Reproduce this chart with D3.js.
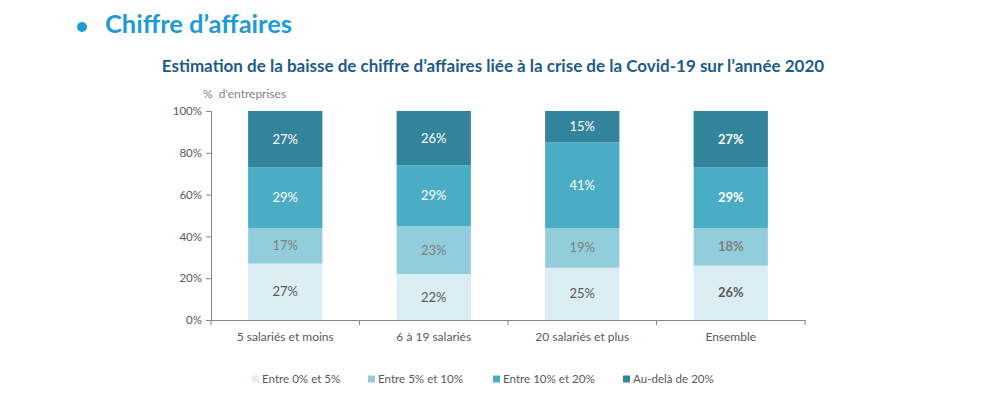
<!DOCTYPE html>
<html>
<head>
<meta charset="utf-8">
<script src="https://cdn.jsdelivr.net/npm/d3@7"></script>
<style>
  body { margin: 0; background: #fff; }
  svg text { font-family: Lato, "Open Sans", sans-serif; }
</style>
</head>
<body>
<div id="chart"></div>
<script>
// Categories (company size)
const categories = ["5 salariés et moins", "6 à 19 salariés", "20 salariés et plus", "Ensemble"];

// Series: share of companies per drop range (%)
const seriesNames = ["Entre 0% et 5%", "Entre 5% et 10%", "Entre 10% et 20%", "Au-delà de 20%"];
const entre0et5   = [27, 22, 25, 26];
const entre5et10  = [17, 23, 19, 18];
const entre10et20 = [29, 29, 41, 29];
const audela20    = [27, 26, 15, 27];

// Y axis ticks
const yTicks = [0, 20, 40, 60, 80, 100];

// Colours for the four ranges
const colors = ["#daeef3", "#92cddc", "#4bacc6", "#31849b"];
const labelColors = ["#595959", "#7f7f7f", "#ffffff", "#ffffff"];

const width = 987, height = 398;
const margin = {top: 111, right: 182, bottom: 78, left: 211};

const svg = d3.select("#chart").append("svg")
    .attr("width", width)
    .attr("height", height);

// Section heading
svg.append("circle")
    .attr("cx", 82).attr("cy", 27).attr("r", 5)
    .attr("fill", "#1e9bd7");
svg.append("text")
    .attr("x", 105).attr("y", 33)
    .attr("font-size", 25.5).attr("font-weight", "bold")
    .attr("fill", "#1e9bd7")
    .text("Chiffre d’affaires");

// Chart title
svg.append("text")
    .attr("x", 493).attr("y", 72)
    .attr("text-anchor", "middle")
    .attr("font-size", 17).attr("font-weight", "bold")
    .attr("fill", "#1d5b88")
    .text("Estimation de la baisse de chiffre d’affaires liée à la crise de la Covid-19 sur l’année 2020");

svg.append("text")
    .attr("x", 203).attr("y", 98)
    .attr("font-size", 12)
    .attr("fill", "#7f7f7f")
    .attr("xml:space", "preserve")
    .text("%  d'entreprises");

// Scales
const x = d3.scaleBand()
    .domain(categories)
    .range([margin.left, width - margin.right])
    .paddingInner(0.5)
    .paddingOuter(0.25);

const y = d3.scaleLinear()
    .domain([0, 100])
    .range([height - margin.bottom, margin.top]);

// Stack data
const rows = categories.map((c, i) => ({
    cat: c,
    s0: entre0et5[i], s1: entre5et10[i], s2: entre10et20[i], s3: audela20[i]
}));
const stack = d3.stack().keys(["s0", "s1", "s2", "s3"]);
const layers = stack(rows);

const layerG = svg.append("g")
    .selectAll("g")
    .data(layers)
    .join("g")
    .attr("fill", (d, i) => colors[i]);

layerG.selectAll("rect")
    .data(d => d)
    .join("rect")
    .attr("x", d => x(d.data.cat))
    .attr("width", x.bandwidth())
    .attr("y", d => y(d[1]))
    .attr("height", d => y(d[0]) - y(d[1]));

// Value labels
layerG.each(function(layer, li) {
    d3.select(this).selectAll("text")
        .data(layer)
        .join("text")
        .attr("x", d => x(d.data.cat) + x.bandwidth() / 2)
        .attr("y", d => (y(d[0]) + y(d[1])) / 2)
        .attr("dy", "0.35em")
        .attr("text-anchor", "middle")
        .attr("font-size", 13)
        .attr("font-weight", d => d.data.cat === "Ensemble" ? "bold" : "normal")
        .attr("fill", labelColors[li])
        .text(d => (d[1] - d[0]) + "%");
});

// Y axis
svg.append("g")
    .attr("transform", `translate(${margin.left},0)`)
    .call(d3.axisLeft(y).tickValues(yTicks).tickSize(5).tickPadding(4)
        .tickFormat(d => d + "%"))
    .call(g => g.selectAll("path, line").attr("stroke", "#868686"))
    .call(g => g.selectAll("text")
        .attr("font-size", 11.5)
        .attr("fill", "#595959")
        .style("font-family", "Lato, sans-serif"));

// X axis: labels at band centres, ticks on band boundaries
const xAxis = svg.append("g")
    .attr("transform", `translate(0,${y(0)})`)
    .call(d3.axisBottom(x).tickSize(0).tickPadding(12))
    .call(g => g.select(".domain").attr("stroke", "#868686"))
    .call(g => g.selectAll("text")
        .attr("font-size", 12)
        .attr("fill", "#595959")
        .style("font-family", "Lato, sans-serif"));

const boundaries = d3.range(categories.length + 1)
    .map(i => margin.left + i * x.step());
xAxis.selectAll(".bound")
    .data(boundaries)
    .join("line")
    .attr("class", "bound")
    .attr("x1", d => d).attr("x2", d => d)
    .attr("y1", 0).attr("y2", 5)
    .attr("stroke", "#868686");

// Legend
const legendX = [252, 368, 493, 623];
const legend = svg.append("g")
    .selectAll("g")
    .data(seriesNames)
    .join("g")
    .attr("transform", (d, i) => `translate(${legendX[i]},379)`);

legend.append("rect")
    .attr("x", 0).attr("y", -3.5)
    .attr("width", 7).attr("height", 7)
    .attr("fill", (d, i) => colors[i]);

legend.append("text")
    .attr("x", 10).attr("y", 0)
    .attr("dy", "0.35em")
    .attr("font-size", 11.6)
    .attr("fill", "#595959")
    .text(d => d);
</script>
</body>
</html>
